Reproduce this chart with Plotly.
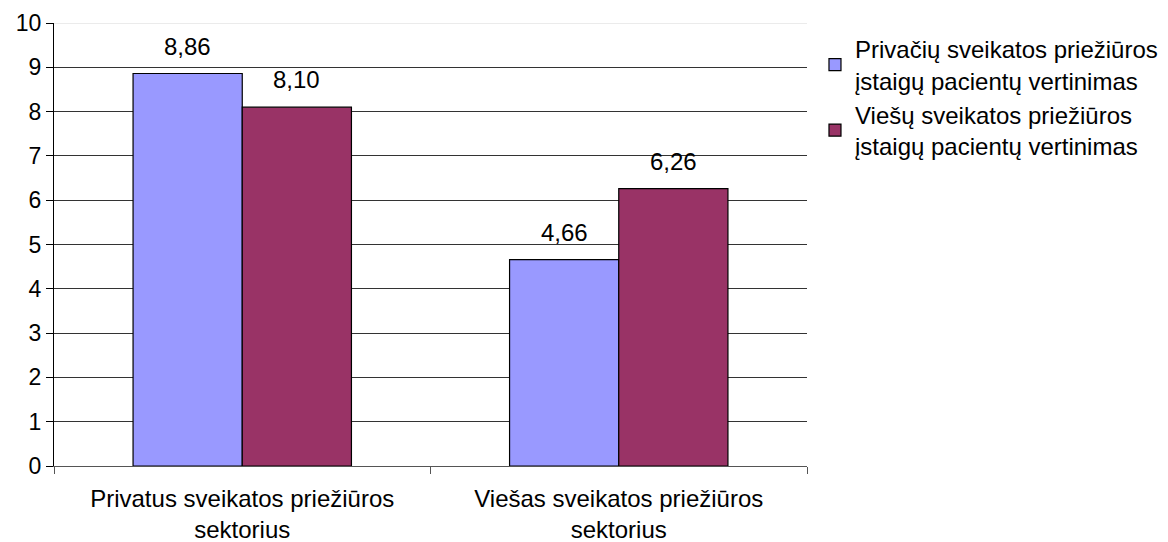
import plotly.graph_objects as go

categories = ["Privatus sveikatos priežiūros<br>sektorius", "Viešas sveikatos priežiūros<br>sektorius"]
series_names = ["Privačių sveikatos priežiūros<br>įstaigų pacientų vertinimas",
                "Viešų sveikatos priežiūros<br>įstaigų pacientų vertinimas"]
private_vals = [8.86, 4.66]
public_vals = [8.10, 6.26]
colors = ["#9999FF", "#993366"]

BAR_HALF_PX = 54.5
fig = go.Figure()
for i, (name, vals, col) in enumerate(zip(series_names, [private_vals, public_vals], colors)):
    fig.add_trace(go.Bar(
        x=categories, y=vals, name=name,
        marker=dict(color=col, line=dict(color="black", width=1.2)),
    ))
    shift = -BAR_HALF_PX if i == 0 else BAR_HALF_PX
    for c, v in zip(categories, vals):
        fig.add_annotation(x=c, y=v, text=f"{v:.2f}".replace(".", ","),
                           xshift=shift, yshift=12, yanchor="bottom",
                           showarrow=False, font=dict(size=24, color="black"))

fig.add_shape(type="line", xref="paper", yref="y", x0=0, x1=1, y0=10, y1=10,
              line=dict(color="#e4e4e4", width=1.5), layer="above")

fig.update_layout(
    width=1168, height=542,
    margin=dict(l=54, r=361, t=23, b=76, autoexpand=False),
    paper_bgcolor="white", plot_bgcolor="white",
    font=dict(family="Liberation Sans, Arial, sans-serif", size=24, color="black"),
    barmode="group", bargap=0.42, bargroupgap=0,
    showlegend=True,
    legend=dict(x=1.0106, y=0.991, xanchor="left", yanchor="top",
                font=dict(size=24)),
)
fig.update_yaxes(range=[0, 10], dtick=1, showgrid=True, gridcolor="#333333", gridwidth=1,
                 showline=True, linecolor="black", linewidth=1,
                 ticks="outside", ticklen=7, tickcolor="black", zeroline=False,
                 tickfont=dict(size=23), automargin=False)
fig.update_xaxes(showline=True, linecolor="#555555", linewidth=1,
                 ticks="outside", tickson="boundaries", ticklen=7, tickcolor="#555555",
                 tickfont=dict(size=24), automargin=False, ticklabelstandoff=11)

fig.write_html("out.html", config={"displayModeBar": False},
               post_script="document.body.style.margin='0px';document.body.style.overflow='hidden';")
